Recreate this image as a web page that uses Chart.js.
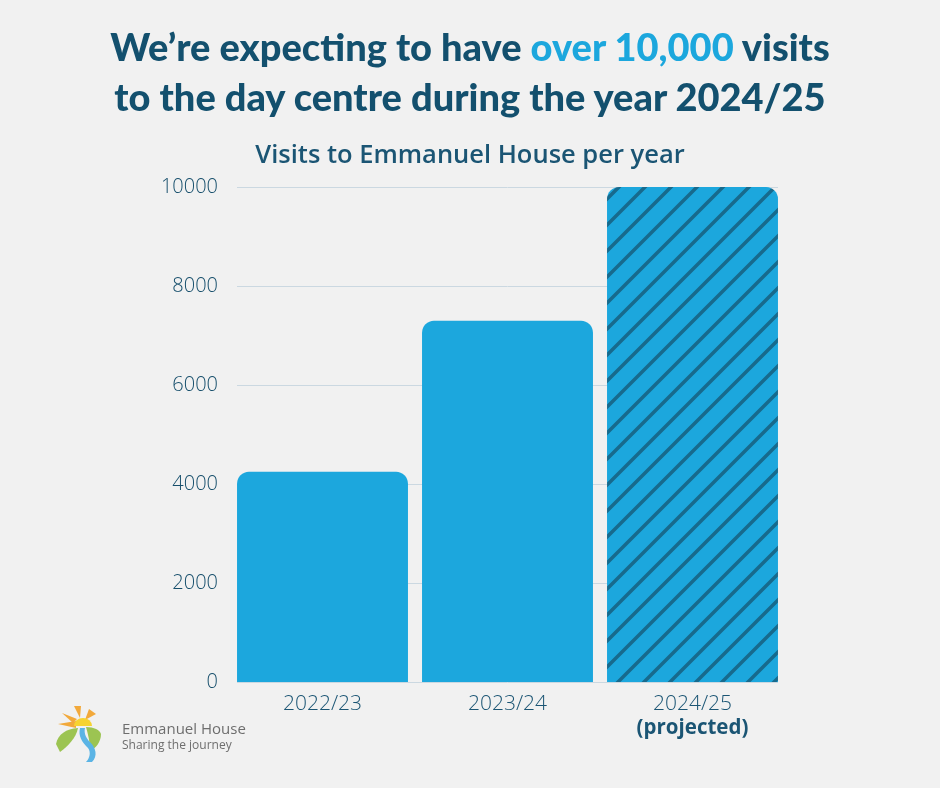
<!DOCTYPE html>
<html>
<head>
<meta charset="utf-8">
<script src="https://cdn.jsdelivr.net/npm/chart.js@4"></script>
<style>
  html, body { margin:0; padding:0; background:#f1f1f1; }
  #wrap { position:relative; width:940px; height:788px; overflow:hidden; }
  #headline { position:absolute; left:0; top:21px; width:940px; text-align:center;
    font-family:"Lato", sans-serif; font-weight:900; font-size:38px; line-height:50px; color:#13506e; }
  #headline .hl { color:#1ca7dd; }
  #subtitle { position:absolute; left:0; top:137px; width:940px; text-align:center;
    font-family:"Open Sans", sans-serif; font-weight:600; font-size:25.5px; line-height:32px; color:#1b5574; }
  #chart { position:absolute; left:0; top:0; }
  #logo { position:absolute; left:54px; top:704px; width:220px; height:60px; }
  #logo .name { position:absolute; left:68px; top:14px; font-family:"Open Sans", sans-serif; font-size:15px; color:#6e6e6e; }
  #logo .tag { position:absolute; left:68px; top:32px; font-family:"Open Sans", sans-serif; font-size:12px; color:#6e6e6e; }
</style>
</head>
<body>
<div id="wrap">
  <canvas id="chart" width="940" height="788"></canvas>
  <div id="headline">We’re expecting to have <span class="hl">over 10,000</span> visits<br>to the day centre during the year 2024/25</div>
  <div id="subtitle">Visits to Emmanuel House per year</div>
  <div id="logo">
    <svg width="50" height="60" viewBox="0 0 50 60">
      <path d="M4 20 L22 17 L22 24 Z" fill="#f2a93b"/>
      <path d="M8 9 L23 15 L19 19 Z" fill="#f2a93b"/>
      <path d="M20 2 L27 2 L26 14 Z" fill="#f2a93b"/>
      <path d="M35 5 L42 10 L31 16 Z" fill="#f2a93b"/>
      <path d="M20 22 A9 8 0 0 1 38 22 Z" fill="#f7d330"/>
      <path d="M2 40 C4 30 12 25 24 24 C22 34 14 42 6 48 Z" fill="#9cc452"/>
      <path d="M32 23 C40 23 46 26 47 30 C47 38 42 44 36 47 C36 38 34 30 32 23 Z" fill="#9cc452"/>
      <path d="M26 24 C24 32 28 38 34 44 C37 48 36 54 32 58 L38 58 C44 52 42 44 36 38 C31 33 30 28 31 24 Z" fill="#5bb4e5"/>
    </svg>
    <div class="name">Emmanuel House</div>
    <div class="tag">Sharing the journey</div>
  </div>
</div>
<script>
var years = ["2022/23", "2023/24", "2024/25"];
var visits = [4250, 7300, 10000];
var projectedNote = "(projected)";
var yTicks = [0, 2000, 4000, 6000, 8000, 10000];

var barBlue = "#1ca7dd";
var textBlue = "#1b5574";

// hatch for the projected year
function makeHatch() {
  var s = 26;
  var c = document.createElement("canvas");
  c.width = s; c.height = s;
  var g = c.getContext("2d");
  g.fillStyle = barBlue;
  g.fillRect(0, 0, s, s);
  g.strokeStyle = "#176a8d";
  g.lineWidth = 3.5;
  g.beginPath();
  g.moveTo(-2, s + 2); g.lineTo(s + 2, -2);
  g.moveTo(-2, 2); g.lineTo(2, -2);
  g.moveTo(s - 2, s + 2); g.lineTo(s + 2, s - 2);
  g.stroke();
  return document.getElementById("chart").getContext("2d").createPattern(c, "repeat");
}

// gridlines only span the bars, not the half gap at each end
var shortGrid = {
  id: "shortGrid",
  beforeDatasetsDraw: function(chart) {
    var y = chart.scales.y, a = chart.chartArea, ctx = chart.ctx;
    var inset = 7;
    ctx.save();
    ctx.strokeStyle = "#cbd8e1";
    ctx.lineWidth = 1;
    y.ticks.forEach(function(t) {
      var py = Math.round(y.getPixelForValue(t.value)) + 0.5;
      ctx.beginPath();
      ctx.moveTo(a.left + inset, py);
      ctx.lineTo(a.right - inset, py);
      ctx.stroke();
    });
    ctx.restore();
  }
};

var projectedLabel = {
  id: "projectedLabel",
  afterDraw: function(chart) {
    var x = chart.scales.x;
    var ctx = chart.ctx;
    ctx.save();
    ctx.font = "bold 20.5px 'Open Sans'";
    ctx.fillStyle = textBlue;
    ctx.textAlign = "center";
    ctx.textBaseline = "middle";
    ctx.fillText(projectedNote, x.getPixelForValue(2), 728);
    ctx.restore();
  }
};

new Chart(document.getElementById("chart"), {
  type: "bar",
  data: {
    labels: years,
    datasets: [{
      data: visits,
      backgroundColor: [barBlue, barBlue, makeHatch()],
      borderWidth: 0,
      borderRadius: { topLeft: 12, topRight: 12, bottomLeft: 0, bottomRight: 0 },
      borderSkipped: "bottom",
      categoryPercentage: 1,
      barPercentage: 0.924
    }]
  },
  options: {
    responsive: false,
    animation: false,
    layout: { padding: { left: 0, right: 155, top: 187, bottom: 0 } },
    plugins: {
      legend: { display: false },
      tooltip: { enabled: false },
      title: { display: false }
    },
    scales: {
      x: {
        grid: { display: false, drawTicks: false },
        border: { display: false },
        ticks: { color: textBlue, font: { family: "'Open Sans'", size: 21, weight: "300" }, padding: 9 },
        afterFit: function(s) { s.height = 106; }
      },
      y: {
        min: 0,
        max: 10000,
        afterBuildTicks: function(s) { s.ticks = yTicks.map(function(v) { return { value: v }; }); },
        grid: { display: false, drawTicks: false },
        border: { display: false },
        ticks: {
          color: "#174f6c",
          font: { family: "'Open Sans'", size: 20, weight: "300" },
          padding: 12,
          callback: function(v) { return String(v); }
        },
        afterFit: function(s) { s.width = 230; }
      }
    }
  },
  plugins: [shortGrid, projectedLabel]
});
</script>
</body>
</html>
